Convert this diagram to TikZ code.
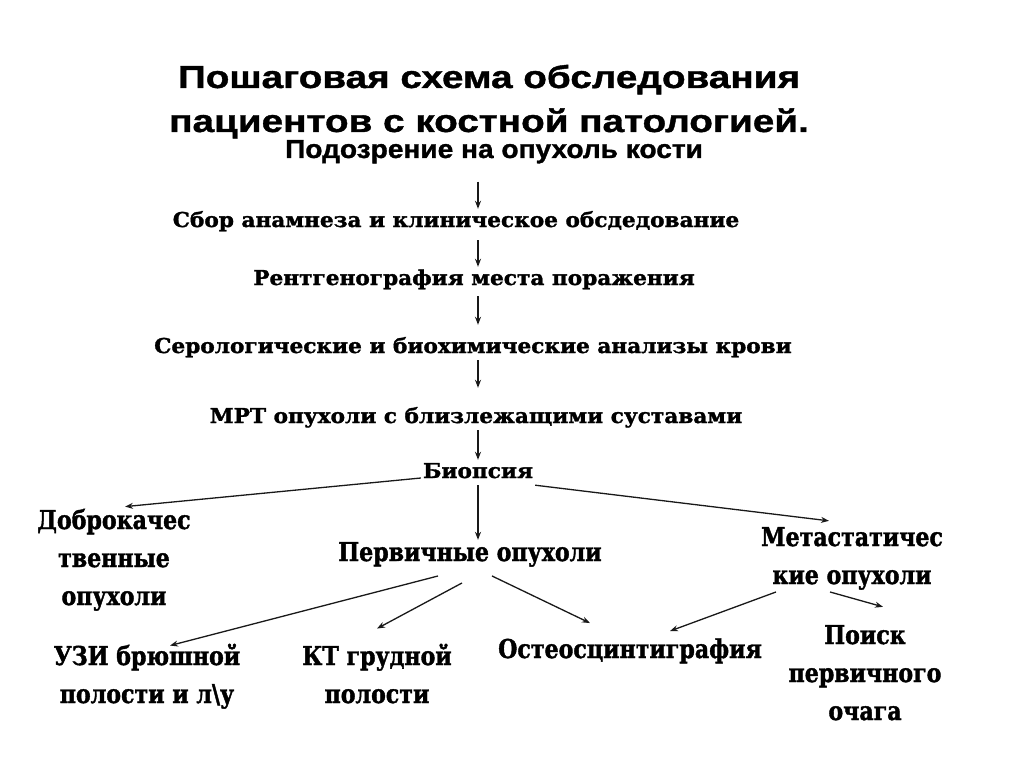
\documentclass[tikz,border=0pt]{standalone}
\usepackage{fontspec}
\setmainfont{Liberation Serif}
\newfontfamily\headfont[FakeStretch=1.22,FakeBold=1.2]{Liberation Sans}
\newfontfamily\suspfont[FakeStretch=1.08,FakeBold=1.2]{Liberation Sans}
\newfontfamily\stagefont[FakeStretch=1.055,FakeBold=1.5]{DejaVu Serif}
\newfontfamily\resfont[FakeStretch=0.85,FakeBold=1.5]{DejaVu Serif}
\usetikzlibrary{arrows.meta}

\begin{document}
\begin{tikzpicture}[x=1pt,y=-1pt,
	head/.style={font=\headfont\bfseries\fontsize{31.7}{44}\selectfont,align=center,anchor=base,inner sep=0pt},
	susp/.style={font=\suspfont\bfseries\fontsize{26}{30}\selectfont,anchor=base,inner sep=0pt},
	stage/.style={font=\stagefont\bfseries\fontsize{20.5}{27}\selectfont,anchor=base,inner sep=2pt,text height=16pt,text depth=5pt},
	res/.style={font=\resfont\bfseries\fontsize{26}{38}\selectfont,align=center,anchor=base,inner sep=2pt},
	link/.style={-{Stealth[length=8pt,width=6pt]},line width=1.3pt,black!90}]
	\fill[white] (0,0) rectangle (1024,767);
	\useasboundingbox (0,0) rectangle (1024,767);
	% title
	\node[head] (title) at (489,132) {Пошаговая схема обследования\\пациентов с костной патологией.};
	% main chain
	\node[susp] (susp) at (494,158) {Подозрение на опухоль кости};
	\node[stage] (anam) at (456,227) {Сбор анамнеза и клиническое обсдедование};
	\node[stage] (xray) at (474,285) {Рентгенография места поражения};
	\node[stage] (blood) at (473,353) {Серологические и биохимические анализы крови};
	\node[stage] (mri) at (476,423) {МРТ опухоли с близлежащими суставами};
	\node[stage] (biop) at (478,478) {Биопсия};
	% results (base = last line)
	\node[res] (benign) at (114,605) {Доброкачес\\твенные\\опухоли};
	\node[res] (prim) at (470,561) {Первичные опухоли};
	\node[res] (meta) at (852,584) {Метастатичес\\кие опухоли};
	\node[res] (usi) at (147,703) {УЗИ брюшной\\полости и л\textbackslash у};
	\node[res] (ct) at (377,703) {КТ грудной\\полости};
	\node[res] (scint) at (630,658) {Остеосцинтиграфия};
	\node[res] (search) at (865,720) {Поиск\\первичного\\очага};
	% arrows
	\draw[link,shorten <=18pt] (susp.south -| biop) -- (anam.north -| biop);
	\draw[link,shorten <=6pt] (anam.south -| biop) -- (xray.north -| biop);
	\draw[link,shorten <=4pt,shorten >=10pt] (xray.south -| biop) -- (blood.north -| biop);
	\draw[link,shorten >=17pt] (blood.south -| biop) -- (mri.north -| biop);
	\draw[link] (mri.south -| biop) -- (biop.north);
	\draw[link] (biop.base west) -- ([xshift=11pt]benign.north);
	\draw[link] (biop.south east) -- ([xshift=-23pt,yshift=4pt]meta.north);
	\draw[link] (biop.south) -- (biop.south |- prim.north);
	\draw[link] ([xshift=-32pt,yshift=-7pt]prim.south) -- ([xshift=23pt,yshift=-4pt]usi.north);
	\draw[link] ([xshift=-8pt,yshift=-14pt]prim.south) -- ([yshift=13pt]ct.north);
	\draw[link] ([xshift=22pt,yshift=-7pt]prim.south) -- ([xshift=-40pt,yshift=13pt]scint.north);
	\draw[link] ([xshift=-76pt]meta.south) -- ([xshift=40pt,yshift=5pt]scint.north);
	\draw[link] ([xshift=-22pt]meta.south) -- ([xshift=18pt,yshift=16pt]search.north);
\end{tikzpicture}
\end{document}
